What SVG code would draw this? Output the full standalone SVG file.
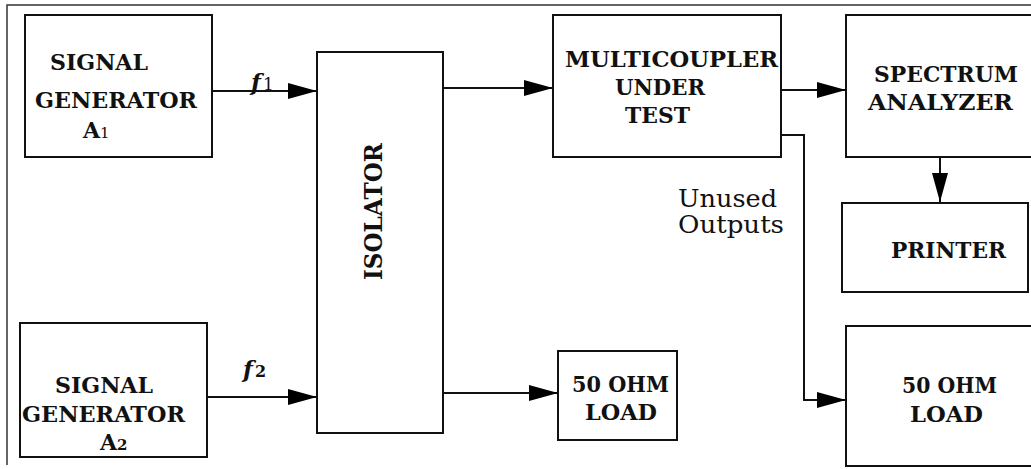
<svg xmlns="http://www.w3.org/2000/svg" width="1031" height="469" viewBox="0 0 1031 469">
<style>
.box{fill:#fff;stroke:#111;stroke-width:2}
.lbl{font-family:"DejaVu Serif",serif;font-weight:bold;font-size:23px;fill:#111}
.sub{font-family:"DejaVu Serif",serif;font-size:15px;fill:#111}
.it{font-family:"DejaVu Serif",serif;font-style:italic;font-weight:bold;font-size:23px;fill:#111}
.note{font-family:"DejaVu Serif",serif;font-size:24px;fill:#111}
.con{fill:none;stroke:#111;stroke-width:2}
.frame{fill:none;stroke:#333;stroke-width:1.5}
</style>
<defs>
<marker id="ah" markerUnits="userSpaceOnUse" markerWidth="30" markerHeight="18" refX="29" refY="8" orient="auto">
<path d="M0,0 L29,8 L0,16 z" fill="#000"/>
</marker>
</defs>
<rect width="1031" height="469" fill="#fff"/>
<path class="frame" d="M1031,5 H7 V465"/>

<g id="connectors">
<line class="con" x1="212" y1="91" x2="317" y2="91" marker-end="url(#ah)"/>
<line class="con" x1="207" y1="397" x2="317" y2="397" marker-end="url(#ah)"/>
<line class="con" x1="443" y1="88" x2="553" y2="88" marker-end="url(#ah)"/>
<line class="con" x1="443" y1="393" x2="558" y2="393" marker-end="url(#ah)"/>
<line class="con" x1="781" y1="90" x2="846" y2="90" marker-end="url(#ah)"/>
<line class="con" x1="940" y1="157" x2="940" y2="202" marker-end="url(#ah)"/>
<polyline class="con" points="781,135 804,135 804,400 846,400" marker-end="url(#ah)"/>
<text x="251" y="90" class="it">f</text>
<text x="263" y="90" class="sub" style="font-size:17px">1</text>
<text x="243" y="377" class="it">f</text>
<text x="255" y="377" class="sub" style="font-size:16px;font-weight:bold">2</text>
<text x="678" y="207" class="note" textLength="99" lengthAdjust="spacingAndGlyphs">Unused</text>
<text x="678" y="233" class="note" textLength="106" lengthAdjust="spacingAndGlyphs">Outputs</text>
</g>

<g id="siggen1">
<rect class="box" x="25" y="15" width="187" height="142"/>
<text x="50" y="70" class="lbl" textLength="98" lengthAdjust="spacingAndGlyphs">SIGNAL</text>
<text x="35" y="108" class="lbl" textLength="162" lengthAdjust="spacingAndGlyphs">GENERATOR</text>
<text x="83" y="138" class="lbl" style="font-size:22px">A</text>
<text x="100" y="138" class="sub">1</text>
</g>

<g id="siggen2">
<rect class="box" x="20" y="323" width="187" height="134"/>
<text x="55" y="393" class="lbl" textLength="98" lengthAdjust="spacingAndGlyphs">SIGNAL</text>
<text x="22" y="422" class="lbl" textLength="163" lengthAdjust="spacingAndGlyphs">GENERATOR</text>
<text x="100" y="450" class="lbl" style="font-size:22px">A</text>
<text x="117" y="450" class="sub" style="font-weight:bold">2</text>
</g>

<g id="isolator">
<rect class="box" x="317" y="52" width="126" height="381"/>
<text transform="translate(382,280) rotate(-90)" x="0" y="0" class="lbl" style="font-size:24px" textLength="137" lengthAdjust="spacingAndGlyphs">ISOLATOR</text>
</g>

<g id="multicoupler">
<rect class="box" x="553" y="15" width="228" height="142"/>
<text x="565" y="67" class="lbl" textLength="213" lengthAdjust="spacingAndGlyphs">MULTICOUPLER</text>
<text x="615" y="95" class="lbl" textLength="90" lengthAdjust="spacingAndGlyphs">UNDER</text>
<text x="625" y="123" class="lbl" textLength="65" lengthAdjust="spacingAndGlyphs">TEST</text>
</g>

<g id="spectrum">
<rect class="box" x="846" y="15" width="200" height="142"/>
<text x="874" y="82" class="lbl" textLength="144" lengthAdjust="spacingAndGlyphs">SPECTRUM</text>
<text x="868" y="110" class="lbl" textLength="145" lengthAdjust="spacingAndGlyphs">ANALYZER</text>
</g>

<g id="printer">
<rect class="box" x="842" y="203" width="186" height="89"/>
<text x="891" y="258" class="lbl" textLength="115" lengthAdjust="spacingAndGlyphs">PRINTER</text>
</g>

<g id="load1">
<rect class="box" x="558" y="351" width="119" height="89"/>
<text x="572" y="392" class="lbl" textLength="97" lengthAdjust="spacingAndGlyphs">50 OHM</text>
<text x="585" y="420" class="lbl" textLength="72" lengthAdjust="spacingAndGlyphs">LOAD</text>
</g>

<g id="load2">
<rect class="box" x="846" y="326" width="200" height="140"/>
<text x="902" y="393" class="lbl" textLength="95" lengthAdjust="spacingAndGlyphs">50 OHM</text>
<text x="910" y="422" class="lbl" textLength="73" lengthAdjust="spacingAndGlyphs">LOAD</text>
</g>
</svg>
